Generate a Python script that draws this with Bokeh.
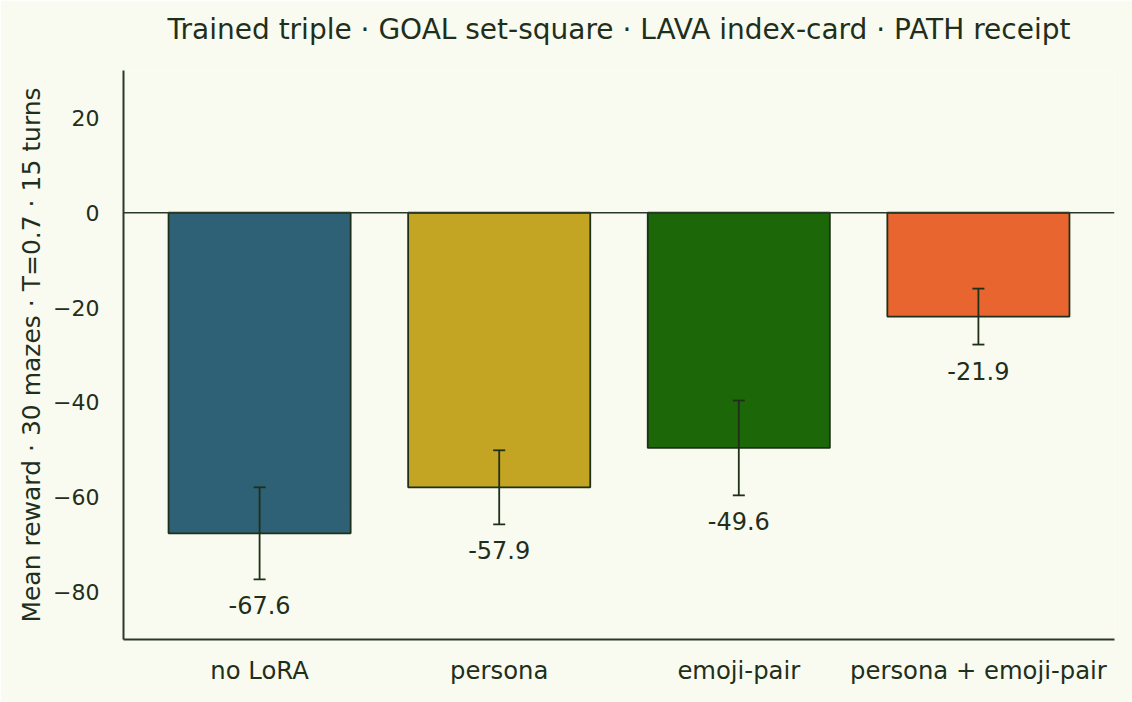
from bokeh.plotting import figure
from bokeh.models import (Range1d, FixedTicker, CustomJSTickFormatter, Span,
                          Whisker, TeeHead, ColumnDataSource, Title)
from bokeh.core.properties import value
from bokeh.embed import file_html
from bokeh.resources import INLINE

# Mean reward per adapter configuration, with error half-widths
conditions = ["no LoRA", "persona", "emoji-pair", "persona + emoji-pair"]
mean_reward = [-67.6, -57.9, -49.6, -21.9]
error = [9.7, 7.8, 10.0, 5.9]
bar_colors = ["#2e6175", "#c4a423", "#1c6808", "#e9652f"]
y_ticks = [-80, -60, -40, -20, 0, 20]
title_text = "Trained triple \u00b7 GOAL set-square \u00b7 LAVA index-card \u00b7 PATH receipt"

BG = "#f9fbf0"
INK = "#1f2f1c"
AXIS = "#2b3a26"
FONT = "DejaVu Sans"

xs = list(range(len(conditions)))
src = ColumnDataSource(dict(
    x=xs,
    mean=mean_reward,
    upper=[m + e for m, e in zip(mean_reward, error)],
    lower=[m - e for m, e in zip(mean_reward, error)],
    color=bar_colors,
    label=[f"{m:.1f}" for m in mean_reward],
))

p = figure(width=1132, height=702, output_backend="svg", toolbar_location=None,
           x_range=Range1d(-0.568, 3.568), y_range=Range1d(-90, 30),
           min_border_left=123, min_border_right=18,
           min_border_top=70, min_border_bottom=63)
p.background_fill_color = BG
p.border_fill_color = BG
p.outline_line_color = None
p.grid.visible = False

# Blank panel next to the frame lifts the title away from the plot area
p.add_layout(Title(text=" ", text_font_size="1px", standoff=22), "above")
p.add_layout(Title(text=title_text, align="center", vertical_align="bottom",
                   text_font=FONT, text_font_size="28px",
                   text_font_style="normal", text_color=INK, standoff=0),
             "above")

p.vbar(x="x", width=0.76, top=0, bottom="mean", source=src,
       fill_color="color", line_color="#1e3019", line_width=1.8)

p.add_layout(Span(location=0, dimension="width", line_color=AXIS,
                  line_width=1.5, level="overlay"))

head = dict(size=12, line_color="#1e3019", line_width=1.8)
p.add_layout(Whisker(source=src, base="x", upper="upper", lower="lower",
                     line_color="#1e3019", line_width=1.8, level="overlay",
                     upper_head=TeeHead(**head), lower_head=TeeHead(**head)))

p.text(x="x", y="lower", text="label", source=src,
       text_align="center", text_baseline="alphabetic", y_offset=26,
       text_font=value(FONT), text_font_size="24px", text_color=INK)

for ax in (p.xaxis[0], p.yaxis[0]):
    ax.axis_line_color = AXIS
    ax.axis_line_width = 2
    ax.major_tick_line_color = None
    ax.minor_tick_line_color = None
    ax.major_label_text_font = FONT
    ax.major_label_text_color = INK

p.xaxis.ticker = FixedTicker(ticks=xs)
p.xaxis.major_label_overrides = {i: c for i, c in enumerate(conditions)}
p.xaxis.major_label_standoff = 10
p.xaxis.major_label_text_font_size = "24.3px"

p.yaxis.ticker = FixedTicker(ticks=y_ticks)
p.yaxis.formatter = CustomJSTickFormatter(
    code="return tick < 0 ? '\\u2212' + Math.abs(tick) : String(tick);")
p.yaxis.major_label_standoff = 18
p.yaxis.major_label_text_font_size = "22px"
p.yaxis.axis_label = "Mean reward \u00b7 30 mazes \u00b7 T=0.7 \u00b7 15 turns"
p.yaxis.axis_label_text_font = FONT
p.yaxis.axis_label_text_font_size = "25px"
p.yaxis.axis_label_text_font_style = "normal"
p.yaxis.axis_label_text_color = INK
p.yaxis.axis_label_standoff = 4

open("out.html", "w").write(file_html(p, INLINE))
